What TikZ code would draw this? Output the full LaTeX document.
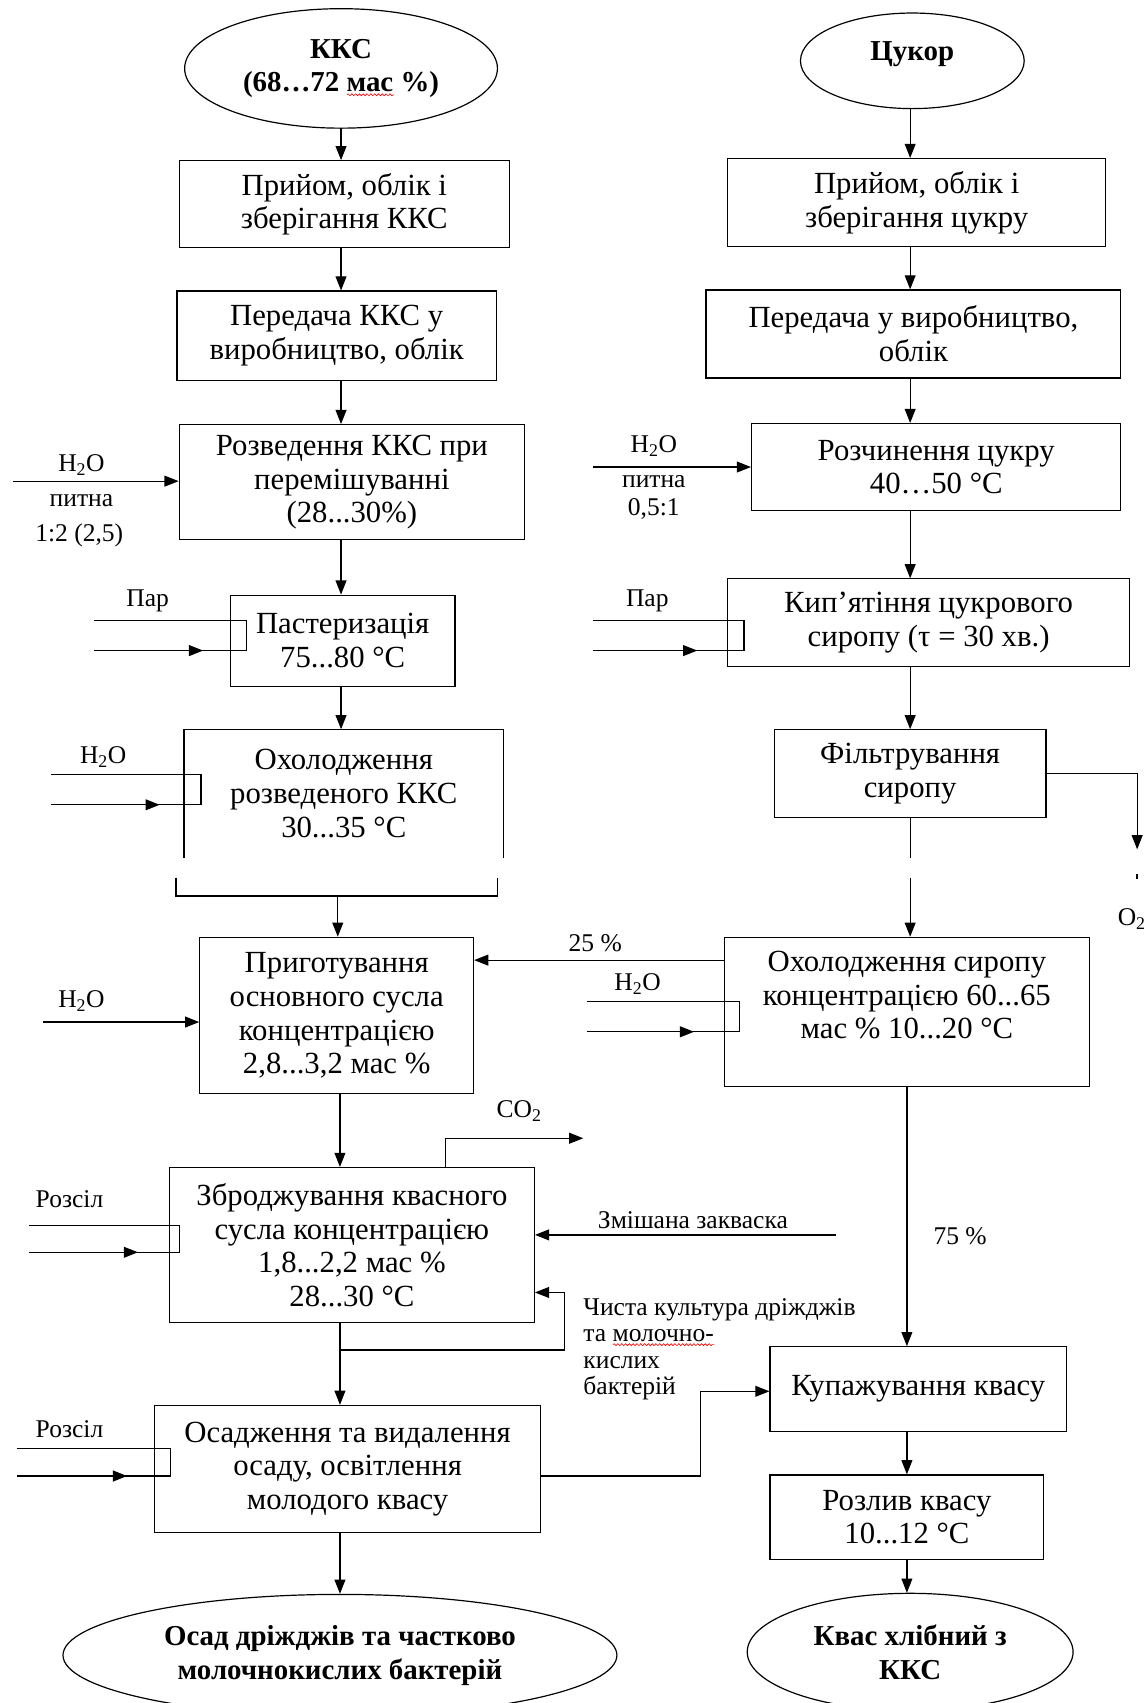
\documentclass[tikz,border=0pt]{standalone}
\usepackage{fontspec}
\setmainfont{Liberation Serif}
\usetikzlibrary{arrows.meta,shapes.geometric,decorations.pathmorphing}
\newcommand\bigf{\fontsize{28.3}{31}\selectfont}
\newcommand\boldf{\fontsize{26.6}{31}\selectfont\bfseries}
\newcommand\smf{\fontsize{23.5}{24.5}\selectfont}
\newcommand\subs[1]{\textsubscript{#1}}
\newlength\wvl
\newcommand\wavy[1]{\settowidth\wvl{#1}\rlap{\raisebox{-4pt}[0pt][0pt]{\tikz\draw[red,line width=0.6pt,decorate,decoration={snake,amplitude=0.9pt,segment length=3.5pt}] (0pt,0pt) -- (\wvl,0pt);}}#1}
\begin{document}
\begin{tikzpicture}[x=1pt,y=-1pt,line width=1.1pt,
  stepbox/.style={draw, rectangle, align=center, font=\bigf, inner sep=0pt},
  oval/.style={draw, ellipse, align=center, font=\boldf, inner sep=0pt},
  lbl/.style={font=\smf, inner sep=0pt},
  arr/.style={-{Triangle[length=13pt,width=10pt]}}]
\useasboundingbox (0,0) rectangle (1055,1568);

% ---------- left column ----------
\node[oval, minimum width=288pt, minimum height=110pt] (kks) at (314,63) {ККС\\(68…72 \wavy{мас} \%)};
\node[stepbox, minimum width=304pt, minimum height=80pt] (b1) at (317,188) {Прийом, облік і\\зберігання ККС};
\node[stepbox, minimum width=294pt, minimum height=82pt] (b2) at (310,309) {Передача ККС у\\виробництво, облік};
\node[stepbox, minimum width=318pt, minimum height=106pt] (b3) at (324,444) {Розведення ККС при\\перемішуванні\\(28...30\%)};
\node[stepbox, minimum width=207pt, minimum height=84pt] (b4) at (315.5,590) {Пастеризація\\75...80 °C};
\node[stepbox, draw=none, minimum width=293pt, minimum height=117pt] (b5) at (316.5,730.5) {Охолодження\\розведеного ККС\\30...35 °C};
\draw (b5.south west) -- (b5.north west) -- (b5.north east) -- (b5.south east);
\coordinate (br1) at (162,808);
\coordinate (br2) at (162,825);
\coordinate (br3) at (458,825);
\coordinate (br4) at (458,808);
\coordinate (brm) at (311,825);
\draw (br1) -- (br2) -- (br3) -- (br4);
\node[stepbox, minimum width=252pt, minimum height=144pt] (b6) at (310,935) {Приготування\\основного сусла\\концентрацією\\2,8...3,2 мас \%};
\node[stepbox, minimum width=336pt, minimum height=143pt] (b7) at (324,1146.5) {Зброджування квасного\\сусла концентрацією\\1,8...2,2 мас \%\\28...30 °C};
\node[stepbox, minimum width=356pt, minimum height=117pt] (b8) at (320,1352.5) {Осадження та видалення\\осаду, освітлення\\молодого квасу};
\node[oval, minimum width=510pt, minimum height=112pt] (e2) at (313,1524) {Осад дріжджів та частково\\молочнокислих бактерій};

\coordinate (lx) at (314,0);
\coordinate (lx2) at (313,0);
\draw[arr] (kks.south) -- (kks.south |- b1.north);
\draw[arr] (lx |- b1.south) -- (lx |- b2.north);
\draw[arr] (lx |- b2.south) -- (lx |- b3.north);
\draw[arr] (lx |- b3.south) -- (lx |- b4.north);
\draw[arr] (lx |- b4.south) -- (lx |- b5.north);
\draw[arr] (brm) -- (brm |- b6.north);
\draw[arr] (lx2 |- b6.south) -- (lx2 |- b7.north);
\draw[arr] (lx2 |- b7.south) -- (lx2 |- b8.north);
\draw[arr] (lx2 |- b8.south) -- (lx2 |- e2.north);

% inputs, left
\node[lbl] (t1) at (75,428) {H\subs{2}O};
\node[lbl] (t2) at (75,461) {питна};
\node[lbl] (t3) at (73,493) {1:2 (2,5)};
\coordinate (w1) at (12,443);
\draw[arr] (w1) -- (w1 -| b3.west);

\node[lbl] (t4) at (136,553) {Пар};
\coordinate (p1a) at (87,571); \coordinate (p1b) at (227,571);
\coordinate (p1c) at (227,599); \coordinate (p1d) at (87,599); \coordinate (p1e) at (187,599);
\draw (p1a) -- (p1b) -- (p1c) -- (p1d);
\draw[arr] (p1d) -- (p1e);

\node[lbl] (t5) at (95,697) {H\subs{2}O};
\coordinate (p2a) at (47,713); \coordinate (p2b) at (185,713);
\coordinate (p2c) at (185,741); \coordinate (p2d) at (47,741); \coordinate (p2e) at (147,741);
\draw (p2a) -- (p2b) -- (p2c) -- (p2d);
\draw[arr] (p2d) -- (p2e);

\node[lbl] (t6) at (75,922) {H\subs{2}O};
\coordinate (w2) at (40,941);
\draw[arr] (w2) -- (w2 -| b6.west);

\node[lbl] (t7) at (64,1104) {Розсіл};
\coordinate (p3a) at (27,1128); \coordinate (p3b) at (165,1128);
\coordinate (p3c) at (165,1153); \coordinate (p3d) at (27,1153); \coordinate (p3e) at (127,1153);
\draw (p3a) -- (p3b) -- (p3c) -- (p3d);
\draw[arr] (p3d) -- (p3e);

\node[lbl] (t8) at (64,1316) {Розсіл};
\coordinate (p4a) at (16,1334); \coordinate (p4b) at (157,1334);
\coordinate (p4c) at (157,1359); \coordinate (p4d) at (16,1359); \coordinate (p4e) at (117,1359);
\draw (p4a) -- (p4b) -- (p4c) -- (p4d);
\draw[arr] (p4d) -- (p4e);

% CO2
\node[lbl] (t9) at (478,1023) {CO\subs{2}};
\coordinate (co2a) at (410,1048); \coordinate (co2b) at (537,1048);
\draw[arr] (co2a |- b7.north) -- (co2a) -- (co2b);

% ---------- right column ----------
\node[oval, minimum width=206pt, minimum height=88pt, text depth=18pt] (cuk) at (840,56) {Цукор};
\node[stepbox, minimum width=348pt, minimum height=81pt] (r1) at (844,186.5) {Прийом, облік і\\зберігання цукру};
\node[stepbox, minimum width=382pt, minimum height=81pt] (r2) at (841,307.5) {Передача у виробництво,\\облік};
\node[stepbox, minimum width=340pt, minimum height=80pt] (r3) at (862,430) {Розчинення цукру\\40…50 °C};
\node[stepbox, minimum width=370pt, minimum height=81pt] (r4) at (855,573.5) {Кип’ятіння цукрового\\сиропу (τ = 30 хв.)};
\node[stepbox, minimum width=250pt, minimum height=81pt] (r5) at (838,712.5) {Фільтрування\\сиропу};
\node[stepbox, minimum width=336pt, minimum height=137pt] (r6) at (835,931.5) {Охолодження сиропу\\концентрацією 60...65\\мас \% 10...20 °C\\\mbox{}};
\node[stepbox, minimum width=273pt, minimum height=78pt] (r7) at (845.5,1279) {Купажування квасу};
\node[stepbox, minimum width=252pt, minimum height=78pt] (r8) at (835,1397) {Розлив квасу\\10...12 °C};
\node[oval, minimum width=300pt, minimum height=108pt] (e3) at (838,1521) {Квас хлібний з\\ККС};

\coordinate (rx) at (838,0);
\coordinate (rx2) at (835,0);
\draw[arr] (rx |- cuk.south) -- (rx |- r1.north);
\draw[arr] (rx |- r1.south) -- (rx |- r2.north);
\draw[arr] (rx |- r2.south) -- (rx |- r3.north);
\draw[arr] (rx |- r3.south) -- (rx |- r4.north);
\draw[arr] (rx |- r4.south) -- (rx |- r5.north);
\coordinate (fb1) at (838,790); \coordinate (fb2) at (838,808);
\draw (rx |- r5.south) -- (fb1);
\draw[arr] (fb2) -- (rx |- r6.north);
\draw[arr] (rx2 |- r6.south) -- (rx2 |- r7.north);
\draw[arr] (rx2 |- r7.south) -- (rx2 |- r8.north);
\draw[arr] (rx2 |- r8.south) -- (rx2 |- e3.north);
\node[lbl] (t10) at (884,1138) {75 \%};

% inputs, right
\node[lbl] (t11) at (602,411) {H\subs{2}O};
\node[lbl] (t12) at (602,443) {питна};
\node[lbl] (t13) at (602,469) {0,5:1};
\coordinate (w3) at (546,430);
\draw[arr] (w3) -- (w3 -| r3.west);

\node[lbl] (t14) at (596,553) {Пар};
\coordinate (q1a) at (546,571); \coordinate (q1b) at (685,571);
\coordinate (q1c) at (685,599); \coordinate (q1d) at (546,599); \coordinate (q1e) at (642,599);
\draw (q1a) -- (q1b) -- (q1c) -- (q1d);
\draw[arr] (q1d) -- (q1e);

\node[lbl] (t15) at (587,906) {H\subs{2}O};
\coordinate (q2a) at (540,922); \coordinate (q2b) at (681,922);
\coordinate (q2c) at (681,950); \coordinate (q2d) at (540,950); \coordinate (q2e) at (639,950);
\draw (q2a) -- (q2b) -- (q2c) -- (q2d);
\draw[arr] (q2d) -- (q2e);

% O2
\coordinate (o2a) at (1047,712.5); \coordinate (o2b) at (1047,782);
\draw[arr] (r5.east) -- (o2a) -- (o2b);
\fill (1046.2,805) rectangle (1047.8,809);
\node[lbl] (t16) at (1042,846) {O\subs{2}};

% 25 %
\coordinate (c25) at (667,884);
\draw[arr] (c25) -- (c25 -| b6.east);
\node[lbl] (t17) at (548,868) {25 \%};

% mixed starter
\coordinate (zm) at (770,1137);
\draw[arr] (zm) -- (zm -| b7.east);
\node[lbl] (t18) at (638,1123) {Змішана закваска};

% pure culture
\coordinate (ch1) at (313,1243); \coordinate (ch2) at (520,1243); \coordinate (ch3) at (520,1190);
\draw[arr] (ch1) -- (ch2) -- (ch3) -- (ch3 -| b7.east);
\node[lbl, align=left, anchor=north west] (t19) at (537,1195) {Чиста культура дріжджів\\та \wavy{молочно-}\\кислих\\бактерій};

% to blending
\coordinate (k1) at (645,1359); \coordinate (k2) at (645,1281);
\draw[arr] (b8.east |- k1) -- (k1) -- (k2) -- (k2 -| r7.west);
\end{tikzpicture}
\end{document}
